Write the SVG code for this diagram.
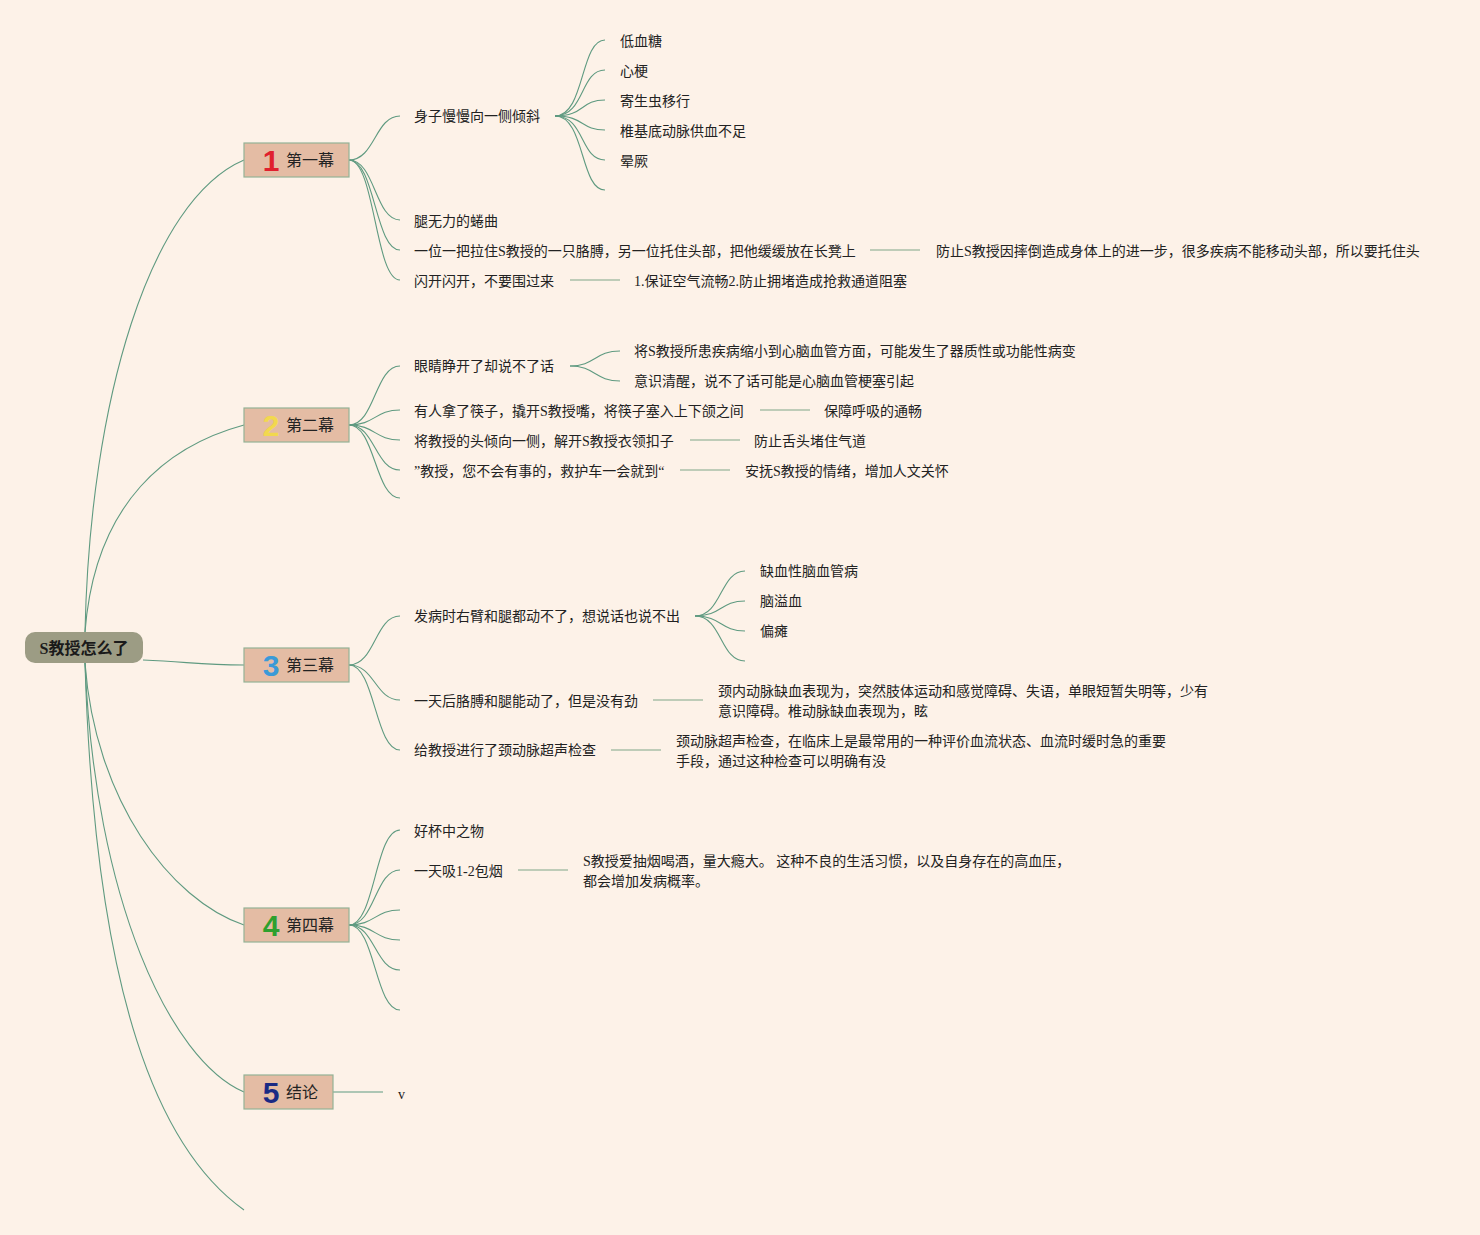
<svg xmlns="http://www.w3.org/2000/svg" width="1480" height="1235" viewBox="0 0 1480 1235">
<style>
.t{font-family:"Liberation Serif","Noto Sans CJK SC",serif;font-size:14px;fill:#222}
.b{fill:#e4bca4;stroke:#94b296;stroke-width:1.2}
.n{font-family:"Liberation Sans","Noto Sans CJK SC",sans-serif;font-size:30px;font-weight:bold}
.bl{font-family:"Noto Sans CJK SC",sans-serif;font-size:16px;fill:#222}
.c{fill:none;stroke:#5f9a80;stroke-width:1.1}
.h{fill:none;stroke:#a9bfa9;stroke-width:1.6}
</style>
<rect width="1480" height="1235" fill="#fdf2e8"/>
<g id="connectors">
<path class="c" d="M85,632 C90,400 150,200 244,160"/>
<path class="c" d="M85,632 C95,500 170,445 244,425"/>
<path class="c" d="M143,660 C190,662 200,665 244,665"/>
<path class="c" d="M85,663 C95,800 170,900 244,925"/>
<path class="c" d="M85,663 C95,900 170,1060 244,1092"/>
<path class="c" d="M85,663 C95,1000 160,1150 244,1210"/>
<path class="c" d="M349,160 C375,160 375,116 400,116"/>
<path class="c" d="M349,160 C375,160 375,220 400,220"/>
<path class="c" d="M349,160 C375,160 375,250 400,250"/>
<path class="c" d="M349,160 C375,160 375,280 400,280"/>
<path class="c" d="M555,116 C585,116 580,40 605,40"/>
<path class="c" d="M555,116 C585,116 580,70 605,70"/>
<path class="c" d="M555,116 C585,116 580,100 605,100"/>
<path class="c" d="M555,116 C585,116 580,130 605,130"/>
<path class="c" d="M555,116 C585,116 580,160 605,160"/>
<path class="c" d="M555,116 C585,116 580,190 605,190"/>
<path class="h" d="M870,250 H920"/>
<path class="h" d="M570,280 H620"/>
<path class="c" d="M349,425 C375,425 375,366 400,366"/>
<path class="c" d="M349,425 C375,425 375,410 400,410"/>
<path class="c" d="M349,425 C375,425 375,440 400,440"/>
<path class="c" d="M349,425 C375,425 375,470 400,470"/>
<path class="c" d="M349,425 C375,425 375,498 400,498"/>
<path class="c" d="M570,366 C595,366 595,351 620,351"/>
<path class="c" d="M570,366 C595,366 595,381 620,381"/>
<path class="h" d="M760,410 H810"/>
<path class="h" d="M690,440 H740"/>
<path class="h" d="M680,470 H730"/>
<path class="c" d="M349,665 C375,665 375,616 400,616"/>
<path class="c" d="M349,665 C375,665 375,700 400,700"/>
<path class="c" d="M349,665 C375,665 375,750 400,750"/>
<path class="c" d="M695,616 C722,616 720,571 745,571"/>
<path class="c" d="M695,616 C722,616 720,601 745,601"/>
<path class="c" d="M695,616 C722,616 720,631 745,631"/>
<path class="c" d="M695,616 C722,616 720,661 745,661"/>
<path class="h" d="M653,700 H703"/>
<path class="h" d="M611,750 H661"/>
<path class="c" d="M349,925 C375,925 375,830 400,830"/>
<path class="c" d="M349,925 C375,925 375,870 400,870"/>
<path class="c" d="M349,925 C375,925 375,910 400,910"/>
<path class="c" d="M349,925 C375,925 375,940 400,940"/>
<path class="c" d="M349,925 C375,925 375,970 400,970"/>
<path class="c" d="M349,925 C375,925 375,1010 400,1010"/>
<path class="h" d="M518,870 H568"/>
<path class="c" d="M333,1092 H383"/>
</g>
<g id="root">
<rect x="25" y="632" width="118" height="31" rx="10" fill="#9c9c84"/>
<text x="84" y="654" text-anchor="middle" style="font-family:'Liberation Serif','Noto Sans CJK SC',serif;font-size:16px;font-weight:bold;fill:#1a1a1a">S教授怎么了</text>
</g>
<g id="b1"><rect class="b" x="244" y="143" width="105" height="34"/><text class="n" x="271" y="171" text-anchor="middle" fill="#e0202e">1</text><text class="bl" x="286" y="166">第一幕</text></g>
<g id="b2"><rect class="b" x="244" y="408" width="105" height="34"/><text class="n" x="271" y="436" text-anchor="middle" fill="#f2d84e">2</text><text class="bl" x="286" y="431">第二幕</text></g>
<g id="b3"><rect class="b" x="244" y="648" width="105" height="34"/><text class="n" x="271" y="676" text-anchor="middle" fill="#3a9ad8">3</text><text class="bl" x="286" y="671">第三幕</text></g>
<g id="b4"><rect class="b" x="244" y="908" width="105" height="34"/><text class="n" x="271" y="936" text-anchor="middle" fill="#2ea02e">4</text><text class="bl" x="286" y="931">第四幕</text></g>
<g id="b5"><rect class="b" x="244" y="1075" width="89" height="34"/><text class="n" x="271" y="1103" text-anchor="middle" fill="#1a2a84">5</text><text class="bl" x="286" y="1098">结论</text></g>
<g id="n1-1"><text class="t" x="414" y="121">身子慢慢向一侧倾斜</text></g>
<g id="n1-1-1"><text class="t" x="620" y="46">低血糖</text></g>
<g id="n1-1-2"><text class="t" x="620" y="76">心梗</text></g>
<g id="n1-1-3"><text class="t" x="620" y="106">寄生虫移行</text></g>
<g id="n1-1-4"><text class="t" x="620" y="136">椎基底动脉供血不足</text></g>
<g id="n1-1-5"><text class="t" x="620" y="166">晕厥</text></g>
<g id="n1-2"><text class="t" x="414" y="226">腿无力的蜷曲</text></g>
<g id="n1-3"><text class="t" x="414" y="256">一位一把拉住S教授的一只胳膊，另一位托住头部，把他缓缓放在长凳上</text></g>
<g id="n1-3-1"><text class="t" x="936" y="256">防止S教授因摔倒造成身体上的进一步，很多疾病不能移动头部，所以要托住头</text></g>
<g id="n1-4"><text class="t" x="414" y="286">闪开闪开，不要围过来</text></g>
<g id="n1-4-1"><text class="t" x="634" y="286">1.保证空气流畅2.防止拥堵造成抢救通道阻塞</text></g>
<g id="n2-1"><text class="t" x="414" y="371">眼睛睁开了却说不了话</text></g>
<g id="n2-1-1"><text class="t" x="634" y="356">将S教授所患疾病缩小到心脑血管方面，可能发生了器质性或功能性病变</text></g>
<g id="n2-1-2"><text class="t" x="634" y="386">意识清醒，说不了话可能是心脑血管梗塞引起</text></g>
<g id="n2-2"><text class="t" x="414" y="416">有人拿了筷子，撬开S教授嘴，将筷子塞入上下颌之间</text></g>
<g id="n2-2-1"><text class="t" x="824" y="416">保障呼吸的通畅</text></g>
<g id="n2-3"><text class="t" x="414" y="446">将教授的头倾向一侧，解开S教授衣领扣子</text></g>
<g id="n2-3-1"><text class="t" x="754" y="446">防止舌头堵住气道</text></g>
<g id="n2-4"><text class="t" x="414" y="476">”教授，您不会有事的，救护车一会就到“</text></g>
<g id="n2-4-1"><text class="t" x="745" y="476">安抚S教授的情绪，增加人文关怀</text></g>
<g id="n3-1"><text class="t" x="414" y="621">发病时右臂和腿都动不了，想说话也说不出</text></g>
<g id="n3-1-1"><text class="t" x="760" y="576">缺血性脑血管病</text></g>
<g id="n3-1-2"><text class="t" x="760" y="606">脑溢血</text></g>
<g id="n3-1-3"><text class="t" x="760" y="636">偏瘫</text></g>
<g id="n3-2"><text class="t" x="414" y="706">一天后胳膊和腿能动了，但是没有劲</text></g>
<g id="n3-2-1"><text class="t" x="718" y="696">颈内动脉缺血表现为，突然肢体运动和感觉障碍、失语，单眼短暂失明等，少有</text><text class="t" x="718" y="716">意识障碍。椎动脉缺血表现为，眩</text></g>
<g id="n3-3"><text class="t" x="414" y="755">给教授进行了颈动脉超声检查</text></g>
<g id="n3-3-1"><text class="t" x="676" y="746">颈动脉超声检查，在临床上是最常用的一种评价血流状态、血流时缓时急的重要</text><text class="t" x="676" y="766">手段，通过这种检查可以明确有没</text></g>
<g id="n4-1"><text class="t" x="414" y="836">好杯中之物</text></g>
<g id="n4-2"><text class="t" x="414" y="876">一天吸1-2包烟</text></g>
<g id="n4-2-1"><text class="t" x="583" y="866">S教授爱抽烟喝酒，量大瘾大。 这种不良的生活习惯，以及自身存在的高血压，</text><text class="t" x="583" y="886">都会增加发病概率。</text></g>
<g id="n5-1"><text class="t" x="398" y="1099">v</text></g>
</svg>
